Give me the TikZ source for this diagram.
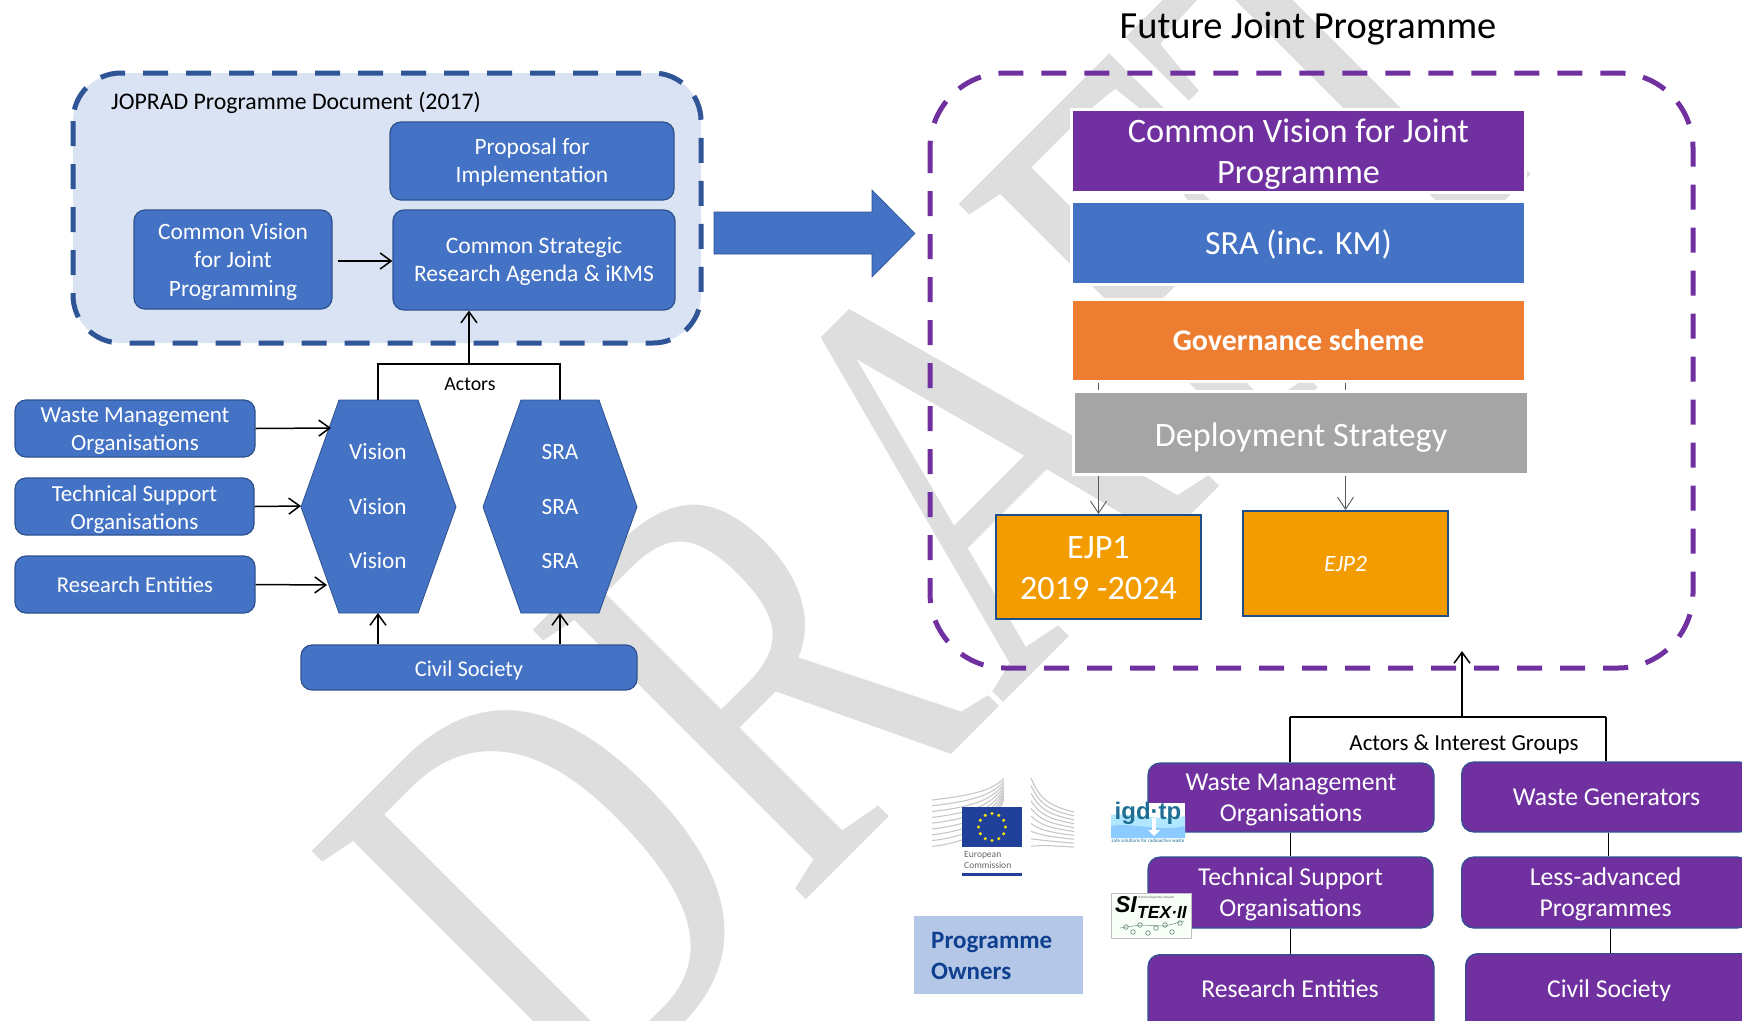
\documentclass[tikz,border=0pt]{standalone}
\usepackage{fontspec}
\setmainfont{Carlito}
\newfontfamily\wmfont{Liberation Serif}
\newfontfamily\logofont{Liberation Sans}
\usetikzlibrary{arrows.meta,calc}
\definecolor{boxblue}{HTML}{4472C4}
\definecolor{boxedge}{HTML}{2F528F}
\definecolor{contblue}{HTML}{DAE3F3}
\definecolor{dashblue}{HTML}{2F5597}
\definecolor{purp}{HTML}{7030A0}
\definecolor{orng}{HTML}{ED7D31}
\definecolor{grayb}{HTML}{A5A5A5}
\definecolor{ejp}{HTML}{F39C00}
\definecolor{ejpedge}{HTML}{1F4E8C}
\definecolor{wm}{HTML}{DEDEDE}
\definecolor{ownbg}{HTML}{B4C7E7}
\definecolor{owntx}{HTML}{0F3F8F}
\definecolor{eublue}{HTML}{20409A}
\definecolor{igdblue}{HTML}{1F6F94}
\definecolor{gearc}{HTML}{6F8F80}
\newcommand{\fsz}[2]{\fontsize{#1}{#2}\selectfont}
\newcommand{\dn}[2]{\raisebox{-#1pt}[\height][\depth]{#2}}
\tikzset{
 lbox/.style={draw=boxedge,line width=1.2pt,fill=boxblue,rounded corners=11pt,text=white,align=center,inner sep=0pt,font=\fsz{23}{28}},
 pbox/.style={draw=boxedge,line width=1.2pt,fill=purp,rounded corners=12pt,text=white,align=center,inner sep=0pt,font=\fsz{25.7}{31}},
 plab/.style={text=white,inner sep=0pt,font=\fsz{25.7}{31}},
 bar/.style={draw=white,line width=3pt,text=white,align=center,inner sep=0pt},
 ejpbox/.style={draw=ejpedge,line width=2pt,fill=ejp,text=white,align=center,inner sep=0pt},
 contl/.style={draw=dashblue,line width=5pt,fill=contblue,rounded corners=48pt,dash pattern=on 25pt off 18pt},
 contr/.style={draw=purp,line width=5pt,rounded corners=75pt,dash pattern=on 25pt off 18pt},
 arr/.style={draw=black,line width=1.5pt,-{Straight Barb[length=11pt,width=16pt,line width=1.5pt]}},
 thinarr/.style={draw=black!65,line width=0.9pt,-{Straight Barb[length=12pt,width=16pt,line width=0.9pt]}},
 link/.style={draw=black,line width=1.1pt},
 hexlab/.style={text=white,inner sep=0pt,font=\fsz{23.3}{25}},
 lab/.style={inner sep=0pt,text=black},
}
\begin{document}
\begin{tikzpicture}[x=1pt,y=-1pt]
\useasboundingbox (0,0) rectangle (1742,1020);
\clip (0,0) rectangle (1742,1020);
% watermark
\node[rotate=45,anchor=base west,inner sep=0pt,text=wm,font=\wmfont\fsz{586}{600}] (draft) at (574,1132) {\scalebox{0.74}[1]{DRAFT}};
% left container
\path[contl] (73,73) rectangle (701,343);
\node[lab,anchor=west,font=\fsz{23.8}{28}] (joprad) at (111,103) {JOPRAD Programme Document (2017)};
\node[lbox,minimum width=284pt,minimum height=78pt,font=\fsz{23.4}{28}] (prop) at (532,161) {\dn{1.5}{Proposal for}\\\dn{1.5}{Implementation}};
\node[lbox,minimum width=282pt,minimum height=100pt,font=\fsz{23.6}{28}] (strat) at (534,260) {\dn{1.5}{Common Strategic}\\\dn{1.5}{Research Agenda \& iKMS}};
\node[lbox,minimum width=198pt,minimum height=99pt,font=\fsz{23.4}{28.5}] (vis) at (233,259.5) {\dn{2}{Common Vision}\\\dn{2}{for Joint}\\\dn{2}{Programming}};
\draw[arr] (vis.east)++(5,1.5) -- (strat.west|-{0,261});
% big arrow
\fill[boxblue,draw=boxedge,line width=0.6pt] (714,212) -- (872,212) -- (872,190) -- (915,233.5) -- (872,277) -- (872,254) -- (714,254) -- cycle;
% hexagons
\fill[boxblue,draw=boxedge,line width=0.8pt] (339,400) -- (418,400) -- (456,507) -- (418,613) -- (339,613) -- (301,507) -- cycle;
\fill[boxblue,draw=boxedge,line width=0.8pt] (521,400) -- (599,400) -- (637,507) -- (599,613) -- (521,613) -- (483,507) -- cycle;
\coordinate (hexAtop) at (378,400);
\coordinate (hexBtop) at (560,400);
\coordinate (hexAbot) at (378,613);
\coordinate (hexBbot) at (560,613);
\coordinate (hexAa) at (331,428);
\coordinate (hexAb) at (301,506);
\coordinate (hexAc) at (327,585);
\node[hexlab] (v1) at (378,452) {Vision};
\node[hexlab] (v2) at (378,507) {Vision};
\node[hexlab] (v3) at (378,561) {Vision};
\node[hexlab] (s1) at (560,452) {SRA};
\node[hexlab] (s2) at (560,507) {SRA};
\node[hexlab] (s3) at (560,561) {SRA};
% left actors
\node[lbox,minimum width=240pt,minimum height=57pt] (lwm) at (135,428.5) {\dn{2.5}{Waste Management}\\\dn{2.5}{Organisations}};
\node[lbox,minimum width=239pt,minimum height=57pt] (lts) at (134.5,506.5) {\dn{2.5}{Technical Support}\\\dn{2.5}{Organisations}};
\node[lbox,minimum width=240pt,minimum height=57pt,font=\fsz{22.6}{28}] (lre) at (135,584.5) {Research Entities};
\node[lbox,minimum width=336pt,minimum height=45pt,font=\fsz{22.5}{28}] (lcs) at (469,667.5) {\dn{2.5}{Civil Society}};
\draw[arr] (lwm.east) -- (hexAa);
\draw[arr] (lts.east) -- (hexAb);
\draw[arr] (lre.east) -- (hexAc);
\draw[arr] (lcs.north-|hexAbot) -- (hexAbot);
\draw[arr] (lcs.north-|hexBbot) -- (hexBbot);
\coordinate (brL) at (378,364);
\coordinate (brR) at (560,364);
\coordinate (brM) at (469,364);
\draw[link] (hexAtop) -- (brL) -- (brR) -- (hexBtop);
\draw[arr] (brM) -- (strat.south-|brM);
\node[lab,font=\fsz{19.8}{22}] (actors) at (470,384) {Actors};
% right container
\path[contr] (930,73) rectangle (1693,668);
\node[lab,font=\fsz{38.4}{44}] (title) at (1308,29) {Future Joint Programme};
% connectors behind deployment
\node[bar,fill=orng,minimum width=454pt,minimum height=82pt,font=\bfseries\fsz{30}{32}] (gov) at (1298.5,340.5) {Governance scheme};
\node[ejpbox,minimum width=205pt,minimum height=104pt,font=\fsz{34.2}{41}] (ejp1) at (1098.5,567) {\dn{1}{EJP1}\\\dn{1}{2019 -2024}};
\node[ejpbox,minimum width=205pt,minimum height=105pt,font=\itshape\fsz{23.4}{25}] (ejp2) at (1345.5,563.5) {EJP2};
\draw[thinarr] (gov.south-|ejp1.north) -- (ejp1.north);
\draw[thinarr] (gov.south-|ejp2.north) -- (ejp2.north);
\node[bar,fill=purp,minimum width=454pt,minimum height=83pt,font=\fsz{34.3}{41}] (cv) at (1298.5,151) {\dn{3.3}{Common Vision for Joint}\\\dn{3.3}{Programme}};
\node[bar,fill=boxblue,minimum width=454pt,minimum height=83pt,font=\fsz{33.8}{38}] (sra) at (1298.5,243) {\dn{1}{SRA (inc. KM)}};
\node[bar,draw=white,fill=grayb,minimum width=455pt,minimum height=83pt,font=\fsz{34.2}{38}] (dep) at (1301,433) {\dn{4.4}{Deployment Strategy}};
% bottom right
\coordinate (b2L) at (1290,717);
\coordinate (b2R) at (1606,717);
\coordinate (b2M) at (1462,717);
\coordinate (b2T) at (1462,651);
\node[pbox,minimum width=286pt,minimum height=69pt] (pwm) at (1291,797.5) {\dn{2.2}{Waste Management}\\\dn{2.2}{Organisations}};
\node[pbox,minimum width=285pt,minimum height=71pt] (pts) at (1290.5,892.5) {\dn{2.2}{Technical Support}\\\dn{2.2}{Organisations}};
\node[pbox,minimum width=286pt,minimum height=90pt,anchor=north] (pre) at (1291,954) {};
\node[plab] (tre) at (1290,989) {Research Entities};
\node[pbox,minimum width=290pt,minimum height=70pt,anchor=west] (pwg) at (1461,797) {Waste Generators};
\node[pbox,minimum width=288pt,minimum height=71pt,anchor=west] (plp) at (1461,892.5) {\dn{2.2}{Less-advanced}\\\dn{2.2}{Programmes}};
\node[pbox,minimum width=300pt,minimum height=90pt,anchor=north west] (pcs) at (1465,953) {};
\node[plab] (tcs) at (1609,991) {Civil Society};
\draw[link] (b2L) -- (b2R);
\draw[arr] (b2M) -- (b2T);
\draw[link] (b2L) -- (b2L|-pwm.north);
\draw[link] (b2R) -- (b2R|-pwg.north);
\draw[link,line width=0.9pt] (pwm.south-|b2L) -- (pts.north-|b2L);
\draw[link,line width=0.9pt] (pts.south-|b2L) -- (pre.north-|b2L);
\coordinate (r1) at (1608,717);
\coordinate (r2) at (1610,717);
\draw[link,line width=0.9pt] (pwg.south-|r1) -- (plp.north-|r1);
\draw[link,line width=0.9pt] (plp.south-|r2) -- (pcs.north-|r2);
\node[lab,font=\fsz{22.9}{25}] (aig) at (1464,745) {Actors \& Interest Groups};
% owners
\node[fill=ownbg,minimum width=169pt,minimum height=78pt,inner sep=0pt] (own) at (998.5,955) {};
\node[anchor=west,text=owntx,inner sep=0pt,align=left,font=\bfseries\fsz{25}{31}] (ownt) at (931,955.5) {Programme\\Owners};
% EC logo
\begin{scope}
\clip (932,776) rectangle (1004,848);
\foreach \i in {0,...,8}{
 \draw[black!22,line width=1.1pt] (932,{800+\i*5.8}) .. controls (965,{796+\i*5.8}) and (992,{792+\i*5}) .. (1004,{778+\i*2.6});
}
\end{scope}
\begin{scope}
\clip (1030,776) rectangle (1074,848);
\foreach \i in {0,...,9}{
 \draw[black!22,line width=1.1pt] (1031,{778+\i*7.6}) .. controls (1040,{800+\i*5}) and (1050,{806+\i*4.4}) .. (1074,{812+\i*3.9});
}
\end{scope}
\fill[eublue] (962,807) rectangle (1022,847);
\foreach \a in {0,30,...,330} \fill[yellow!90!orange] ($(992,827)+(\a:13.5)$) circle (1.7);
\node[anchor=west,inner sep=0pt,text=black!60,font=\fsz{9.5}{10.5},align=left] (ecn) at (964,860) {European\\Commission};
\fill[eublue] (962,873) rectangle (1022,876);
% igd-tp logo
\fill[white] (1111,803) rectangle (1185,843);
\fill[blue!30!cyan!30!white] (1111,815) .. controls (1130,812) and (1160,822) .. (1185,816) -- (1185,838) -- (1111,838) -- cycle;
\fill[blue!45!cyan!45!white] (1111,826) .. controls (1130,822) and (1160,832) .. (1185,826) -- (1185,838) -- (1111,838) -- cycle;
\fill[white] (1152,818) rectangle (1156,830);
\fill[white] (1148,830) -- (1160,830) -- (1154,836) -- cycle;
\node[inner sep=0pt,text=igdblue,font=\logofont\bfseries\fsz{24}{25}] (igd) at (1148,813) {igd·tp};
\node[inner sep=0pt,text=igdblue,font=\fsz{5.1}{6}] (igds) at (1148,841) {safe solutions for radioactive waste};
% sitex logo
\fill[white!97!green] (1111,893) rectangle (1191,938);
\draw[black!25,line width=0.5pt] (1111,893) rectangle (1191,938);
\node[inner sep=0pt,font=\logofont\bfseries\itshape\fsz{23}{25}] (si) at (1126,905) {SI};
\node[inner sep=0pt,font=\logofont\bfseries\itshape\fsz{17.5}{20}] (tex) at (1162,912) {TEX·II};
\node[inner sep=0pt,text=black!65,font=\fsz{3.2}{4}] (sin) at (1156,898) {Technical Expertise network};
\foreach \p/\q in {1126/927,1133/932,1140/925,1148/933,1156/928,1165/925,1172/932,1180/923}{
 \draw[gearc,line width=0.7pt] (\p,\q) circle (2.3);
}
\draw[gearc,line width=0.5pt] (1120,928) -- (1140,925) -- (1165,926) -- (1184,921);
\end{tikzpicture}
\end{document}
